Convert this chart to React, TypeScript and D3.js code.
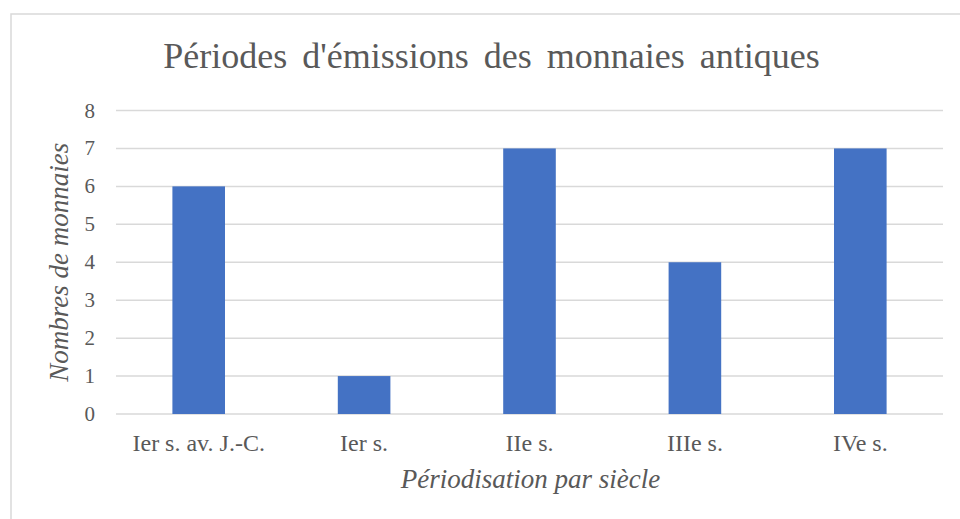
import React from "react";
import * as d3 from "d3";

const categories = ["Ier s. av. J.-C.", "Ier s.", "IIe s.", "IIIe s.", "IVe s."];
const values = [6, 1, 7, 4, 7];
const yTicks = [0, 1, 2, 3, 4, 5, 6, 7, 8];
const title = "Périodes d'émissions des monnaies antiques";
const xTitle = "Périodisation par siècle";
const yTitle = "Nombres de monnaies";

const W = 960;
const H = 519;
const plot = { left: 116, right: 943, top: 110.5, bottom: 414 };
const FONT = "'Liberation Serif', 'Times New Roman', serif";
const TEXT = "#595959";
const GRID = "#D9D9D9";
const BAR = "#4472C4";

export default function App() {
  const x = d3.scaleBand<string>().domain(categories).range([plot.left, plot.right]).paddingInner(0.682).paddingOuter(0.341);
  const y = d3.scaleLinear().domain([0, 8]).range([plot.bottom, plot.top]);
  return (
    <svg width={W} height={H} style={{ position: "absolute", left: 0, top: 0 }}>
      <rect x={0} y={0} width={W} height={H} fill="#fff" />
      <rect x={11} y={14} width={970} height={530} fill="#fff" stroke={GRID} strokeWidth={1.5} />
      <text x={491.5} y={68} textAnchor="middle" fontFamily={FONT} fontSize={36} wordSpacing={6} fill={TEXT}>{title}</text>
      {yTicks.map((t) => (
        <g key={t}>
          <line x1={plot.left} x2={plot.right} y1={y(t)} y2={y(t)} stroke={GRID} strokeWidth={1.5} />
          <text x={95} y={y(t) + 7} textAnchor="end" fontFamily={FONT} fontSize={21} fill={TEXT}>{t}</text>
        </g>
      ))}
      {categories.map((c, i) => (
        <rect key={c} x={x(c)} y={y(values[i])} width={x.bandwidth()} height={y(0) - y(values[i])} fill={BAR} />
      ))}
      {categories.map((c) => (
        <text key={c} x={(x(c) as number) + x.bandwidth() / 2} y={451} textAnchor="middle" fontFamily={FONT} fontSize={24} fill={TEXT}>{c}</text>
      ))}
      <text x={530.5} y={488} textAnchor="middle" fontFamily={FONT} fontStyle="italic" fontSize={27} fill={TEXT}>{xTitle}</text>
      <text transform={`translate(68, ${(plot.top + plot.bottom) / 2}) rotate(-90)`} textAnchor="middle" fontFamily={FONT} fontStyle="italic" fontSize={27} fill={TEXT}>{yTitle}</text>
    </svg>
  );
}
